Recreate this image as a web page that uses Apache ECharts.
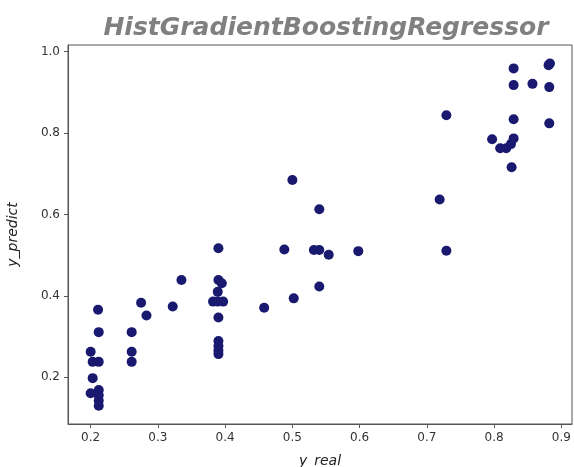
<!DOCTYPE html>
<html>
<head>
<meta charset="utf-8">
<script src="https://cdn.jsdelivr.net/npm/echarts@6/dist/echarts.min.js"></script>
<style>html,body{margin:0;padding:0;background:#fff;}#c{width:574px;height:467px;}</style>
</head>
<body>
<div id="c"></div>
<script>
const titleText = 'HistGradientBoostingRegressor';
const xName = 'y_real';
const yName = 'y_predict';
const xTicks = [0.2, 0.3, 0.4, 0.5, 0.6, 0.7, 0.8, 0.9];
const yTicks = [0.2, 0.4, 0.6, 0.8, 1.0];
const yReal = [
  0.200, 0.203, 0.212, 0.203, 0.200, 0.212, 0.212, 0.212, 0.212, 0.211,
  0.212, 0.261, 0.261, 0.261, 0.275, 0.283, 0.322, 0.335, 0.390, 0.390,
  0.395, 0.389, 0.382, 0.389, 0.397, 0.390, 0.390, 0.390, 0.390, 0.390,
  0.458, 0.488, 0.500, 0.502, 0.532, 0.540, 0.554, 0.540, 0.540, 0.598,
  0.719, 0.729, 0.729, 0.797, 0.809, 0.818, 0.825, 0.829, 0.826, 0.829,
  0.829, 0.829, 0.857, 0.882, 0.883, 0.881, 0.882
];
const yPredict = [
  0.263, 0.238, 0.238, 0.198, 0.161, 0.169, 0.156, 0.143, 0.130, 0.366,
  0.311, 0.311, 0.263, 0.238, 0.383, 0.352, 0.374, 0.439, 0.517, 0.439,
  0.431, 0.410, 0.386, 0.386, 0.386, 0.347, 0.289, 0.277, 0.266, 0.257,
  0.371, 0.514, 0.685, 0.394, 0.513, 0.513, 0.501, 0.613, 0.423, 0.510,
  0.637, 0.511, 0.844, 0.785, 0.763, 0.763, 0.773, 0.787, 0.716, 0.834,
  0.918, 0.959, 0.921, 0.913, 0.971, 0.967, 0.824
];
const points = yReal.map((v, i) => [v, yPredict[i]]);

const chart = echarts.init(document.getElementById('c'), null, {renderer: 'canvas'});
const axisCol = '#555';
chart.setOption({
  animation: false,
  backgroundColor: '#fff',
  title: {
    text: titleText,
    left: 321, top: 11, textAlign: 'center',
    textStyle: {fontFamily: 'DejaVu Sans', fontWeight: 'bold', fontStyle: 'italic', fontSize: 25, color: '#808080'}
  },
  grid: {left: 68, right: 2, top: 45, bottom: 43, show: true, borderColor: axisCol, borderWidth: 1,
         backgroundColor: 'transparent', containLabel: false, outerBoundsMode: 'none'},
  xAxis: {
    type: 'value', min: 0.1663, max: 0.9158,
    name: xName, nameLocation: 'middle', nameGap: 30,
    nameTextStyle: {fontFamily: 'DejaVu Sans', fontStyle: 'italic', fontSize: 14, color: '#222'},
    axisLine: {show: true, lineStyle: {color: axisCol, width: 1}},
    axisTick: {show: true, length: 4, lineStyle: {color: axisCol}, customValues: xTicks},
    axisLabel: {customValues: xTicks, formatter: v => v.toFixed(1), fontFamily: 'DejaVu Sans', fontSize: 12, color: '#333', margin: 8},
    splitLine: {show: false}
  },
  yAxis: {
    type: 'value', min: 0.0853, max: 1.0165,
    name: yName, nameLocation: 'middle', nameGap: 48, nameRotate: 90,
    nameTextStyle: {fontFamily: 'DejaVu Sans', fontStyle: 'italic', fontSize: 14, color: '#222'},
    axisLine: {show: true, lineStyle: {color: axisCol, width: 1}},
    axisTick: {show: true, length: 4, lineStyle: {color: axisCol}, customValues: yTicks},
    axisLabel: {customValues: yTicks, formatter: v => v.toFixed(1), fontFamily: 'DejaVu Sans', fontSize: 12, color: '#333', margin: 8},
    splitLine: {show: false}
  },
  series: [{
    type: 'scatter',
    data: points,
    symbol: 'circle',
    symbolSize: 10,
    itemStyle: {color: '#191970', opacity: 1},
    emphasis: {disabled: true}
  }]
});
</script>
</body>
</html>
